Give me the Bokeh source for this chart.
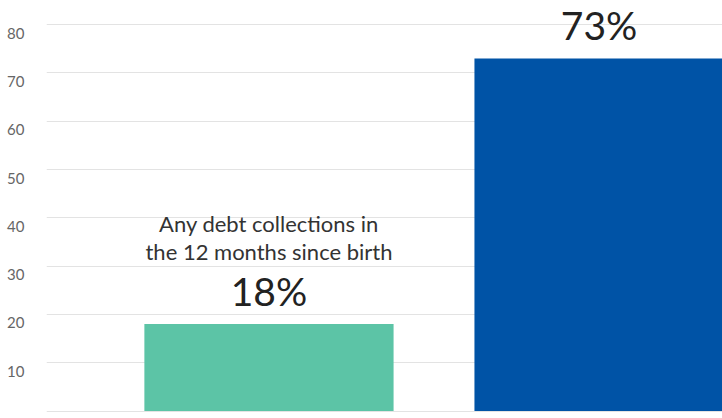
from bokeh.plotting import figure
from bokeh.models import ColumnDataSource, FixedTicker, Range1d, LinearAxis
from bokeh.core.properties import value
from bokeh.embed import file_html
from bokeh.resources import INLINE

# data
percents = [18, 73]
label_line1 = ["Any debt collections in", ""]
label_line2 = ["the 12 months since birth", ""]
bar_colors = ["#5cc4a6", "#0053a6"]
y_ticks = [0, 10, 20, 30, 40, 50, 60, 70, 80]

xs = list(range(len(percents)))
src = ColumnDataSource(dict(
    x=xs, top=percents, color=bar_colors,
    pct=[f"{v}%" for v in percents],
    l1=label_line1, l2=label_line2,
))

y0, y1 = -1.55, 85
shift = 1.76
p = figure(width=722, height=418, output_backend="svg", toolbar_location=None,
           x_range=Range1d(-0.674, 1.374), y_range=Range1d(y0, y1),
           min_border=0, min_border_left=46)
p.extra_y_ranges = {"lab": Range1d(y0 + shift, y1 + shift)}
p.outline_line_color = None
p.xaxis.visible = False
p.yaxis.visible = False
p.xgrid.grid_line_color = None
p.ygrid.ticker = FixedTicker(ticks=y_ticks)
p.ygrid.grid_line_color = "#e3e3e3"
p.ygrid.grid_line_width = 1

ax = LinearAxis(y_range_name="lab", ticker=FixedTicker(ticks=y_ticks))
ax.axis_line_color = None
ax.major_tick_line_color = None
ax.minor_tick_line_color = None
ax.major_tick_in = 0
ax.major_tick_out = 0
ax.major_label_standoff = 22
ax.major_label_text_font = "Lato"
ax.major_label_text_font_size = "15px"
ax.major_label_text_color = "#666666"
p.add_layout(ax, "left")

p.vbar(x="x", top="top", bottom=0, width=0.755, color="color", line_color=None, source=src)

font = value("Lato")
p.text(x="x", y="top", text="pct", source=src, text_align="center", text_baseline="bottom",
       y_offset=-10, text_font=font, text_font_size="39px", text_color="#222222")
p.text(x="x", y="top", text="l2", source=src, text_align="center", text_baseline="bottom",
       y_offset=-59, text_font=font, text_font_size="22px", text_color="#333333")
p.text(x="x", y="top", text="l1", source=src, text_align="center", text_baseline="bottom",
       y_offset=-87, text_font=font, text_font_size="22px", text_color="#333333")

open("out.html", "w").write(file_html(p, INLINE))
